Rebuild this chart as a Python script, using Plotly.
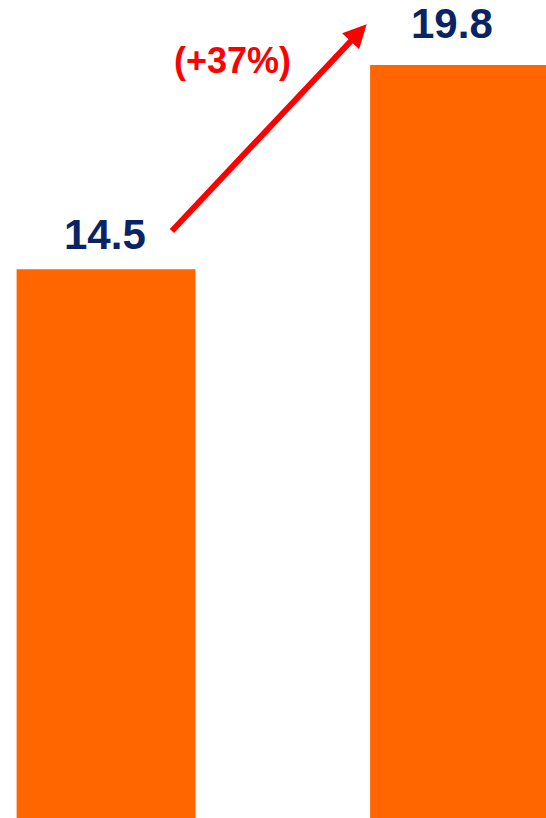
import plotly.graph_objects as go

# ---- data ----
categories = [0, 1]
values = [14.5, 19.8]
value_labels = ["14.5", "19.8"]
change_label = "(+37%)"

# ---- style ----
BAR_COLOR = "#FF6600"
NAVY = "#0A2463"
RED = "#FF0000"
FONT = "Liberation Sans, Arial, sans-serif"
label_xshift = [-1, -8]
label_yshift = [35, 42]

fig = go.Figure()
fig.add_trace(go.Bar(
    x=categories, y=values, width=0.506,
    marker=dict(color=BAR_COLOR, line=dict(width=0)),
    hoverinfo="skip",
))

for c, v, t, xs, ys in zip(categories, values, value_labels, label_xshift, label_yshift):
    fig.add_annotation(x=c, y=v, text=f"<b>{t}</b>", showarrow=False,
                       xanchor="center", yanchor="middle", xshift=xs, yshift=ys,
                       font=dict(family=FONT, size=42, color=NAVY))

# growth arrow
fig.add_annotation(x=0.7373, y=20.856, ax=0.1823, ay=15.455,
                   xref="x", yref="y", axref="x", ayref="y",
                   text="", showarrow=True, arrowhead=2, arrowsize=0.78,
                   arrowwidth=6, arrowcolor=RED, standoff=0, startstandoff=0)

fig.add_annotation(x=0.359, y=19.92, text=f"<b>{change_label}</b>", showarrow=False,
                   xanchor="center", yanchor="middle",
                   font=dict(family=FONT, size=36, color=RED))

fig.update_layout(
    width=546, height=818,
    margin=dict(l=0, r=0, t=0, b=0),
    paper_bgcolor="white", plot_bgcolor="white",
    showlegend=False,
    xaxis=dict(range=[-0.3, 1.2446], visible=False, fixedrange=True),
    yaxis=dict(range=[0.267, 21.486], visible=False, fixedrange=True),
)

fig.write_html("out.html", config={"displayModeBar": False},
               post_script="document.body.style.margin='0';")
